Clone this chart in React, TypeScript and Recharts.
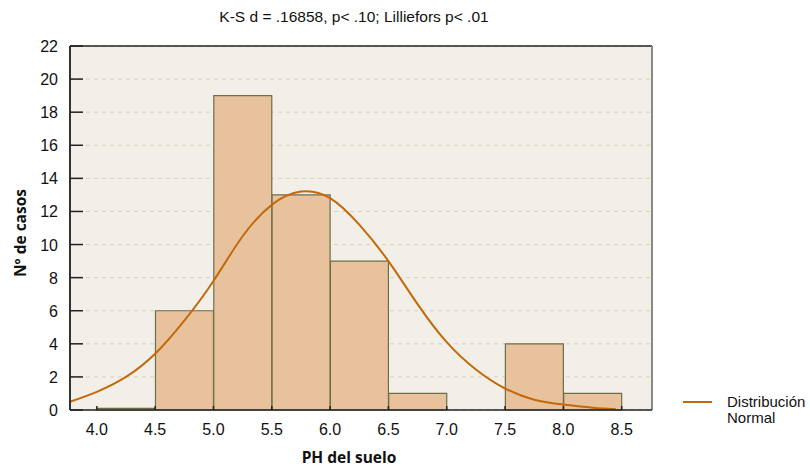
import { ComposedChart, Bar, Line, XAxis, YAxis, CartesianGrid, ReferenceLine, Label, Rectangle } from 'recharts';

// histogram bins (class centres) and frequencies
const binCenters = [4.25, 4.75, 5.25, 5.75, 6.25, 6.75, 7.25, 7.75, 8.25];
const binCounts = [0.1, 6, 19, 13, 9, 1, 0, 4, 1];

// fitted normal curve
const curveX = [3.77, 4.0, 4.25, 4.5, 4.75, 5.0, 5.25, 5.5, 5.75, 6.0, 6.25, 6.5, 6.75, 7.0, 7.25, 7.5, 7.75, 8.0, 8.25, 8.45];
const curveY = [0.5, 1.1, 2.0, 3.4, 5.4, 7.8, 10.5, 12.4, 13.2, 12.8, 11.2, 9.0, 6.4, 4.1, 2.45, 1.3, 0.62, 0.33, 0.14, 0.05];

const xTicks = [4.0, 4.5, 5.0, 5.5, 6.0, 6.5, 7.0, 7.5, 8.0, 8.5];
const yTicks = [0, 2, 4, 6, 8, 10, 12, 14, 16, 18, 20, 22];

const data = curveX.map((x, i) => {
  const b = binCenters.indexOf(x);
  return { x, normal: curveY[i], count: b >= 0 ? binCounts[b] : undefined };
});

const FONT = '"Liberation Sans", Arial, sans-serif';
const LABEL_FONT = '"Open Sans", sans-serif';
const CURVE = '#C2690A';
const BIN_PX = 58; // width of one 0.5 class on the x scale

const XTick = ({ x, y, payload }: any) => (
  <g>
    <line x1={x} x2={x} y1={y} y2={y - 4} stroke="#222" strokeWidth={1.5} />
    <text x={x} y={y + 25} textAnchor="middle" fontSize={16} fill="#111" fontFamily={FONT}>
      {payload.value.toFixed(1)}
    </text>
  </g>
);

const YTick = ({ x, y, payload }: any) => (
  <g>
    <line x1={x} x2={x + 13} y1={y} y2={y} stroke="#222" strokeWidth={1.5} />
    <text x={x - 12} y={y + 6} textAnchor="end" fontSize={16} fill="#111" fontFamily={FONT}>
      {payload.value}
    </text>
  </g>
);

// bars are centred on the class centre, wide enough to fill the class
const HistBar = (props: any) => {
  const cx = props.x + props.width / 2;
  return <Rectangle {...props} x={cx - BIN_PX / 2} width={BIN_PX} />;
};

export default function App() {
  return (
    <div style={{ position: 'absolute', left: 0, top: 0, width: 810, height: 468, background: '#fff' }}>
      <div
        style={{
          position: 'absolute', left: 0, top: 8, width: 708, textAlign: 'center',
          fontFamily: FONT, fontSize: 15.5, color: '#111', lineHeight: '18px',
        }}
      >
        K-S d = .16858, p&lt; .10; Lilliefors p&lt; .01
      </div>
      <ComposedChart
        width={810}
        height={468}
        data={data}
        margin={{ top: 46, right: 158, bottom: 0, left: 0 }}
      >
        <CartesianGrid vertical={false} stroke="#D6D3B8" strokeDasharray="4 4" fill="#F2EFE8" />
        <XAxis
          dataKey="x"
          type="number"
          domain={[3.77, 8.76]}
          ticks={xTicks}
          interval={0}
          height={58}
          tickSize={0}
          tickMargin={0}
          tickLine={false}
          tick={<XTick />}
          axisLine={{ stroke: '#222', strokeWidth: 1.5 }}
        >
          <Label
            value="PH del suelo"
            position="insideBottom"
            offset={5}
            dx={-12}
            style={{ fontFamily: LABEL_FONT, fontWeight: 700, fontSize: 15.5, fill: '#111' }}
          />
        </XAxis>
        <YAxis
          type="number"
          domain={[0, 22]}
          ticks={yTicks}
          interval={0}
          width={70}
          tickSize={0}
          tickMargin={0}
          tickLine={false}
          tick={<YTick />}
          axisLine={{ stroke: '#333', strokeWidth: 2 }}
        >
          <Label
            value="Nº de casos"
            angle={-90}
            position="insideLeft"
            offset={20}
            dy={5}
            style={{ fontFamily: LABEL_FONT, fontWeight: 700, fontSize: 15.5, fill: '#111', textAnchor: 'middle' }}
          />
        </YAxis>
        <ReferenceLine y={22} stroke="#222" strokeWidth={1.5} />
        <ReferenceLine x={8.76} stroke="#888" strokeWidth={2} />
        <Bar
          dataKey="count"
          fill="#E8C29D"
          stroke="#6E6E48"
          strokeWidth={1.2}
          shape={<HistBar />}
          isAnimationActive={false}
        />
        <Line
          dataKey="normal"
          type="natural"
          stroke={CURVE}
          strokeWidth={2}
          dot={false}
          activeDot={false}
          isAnimationActive={false}
        />
      </ComposedChart>
      <div style={{ position: 'absolute', left: 680, top: 392 }}>
        <svg width={130} height={40}>
          <line x1={3} x2={32} y1={10} y2={10} stroke={CURVE} strokeWidth={2} />
          <text x={47} y={15} fontSize={15} fontFamily={FONT} fill="#111">Distribución</text>
          <text x={47} y={31} fontSize={15} fontFamily={FONT} fill="#111">Normal</text>
        </svg>
      </div>
    </div>
  );
}
